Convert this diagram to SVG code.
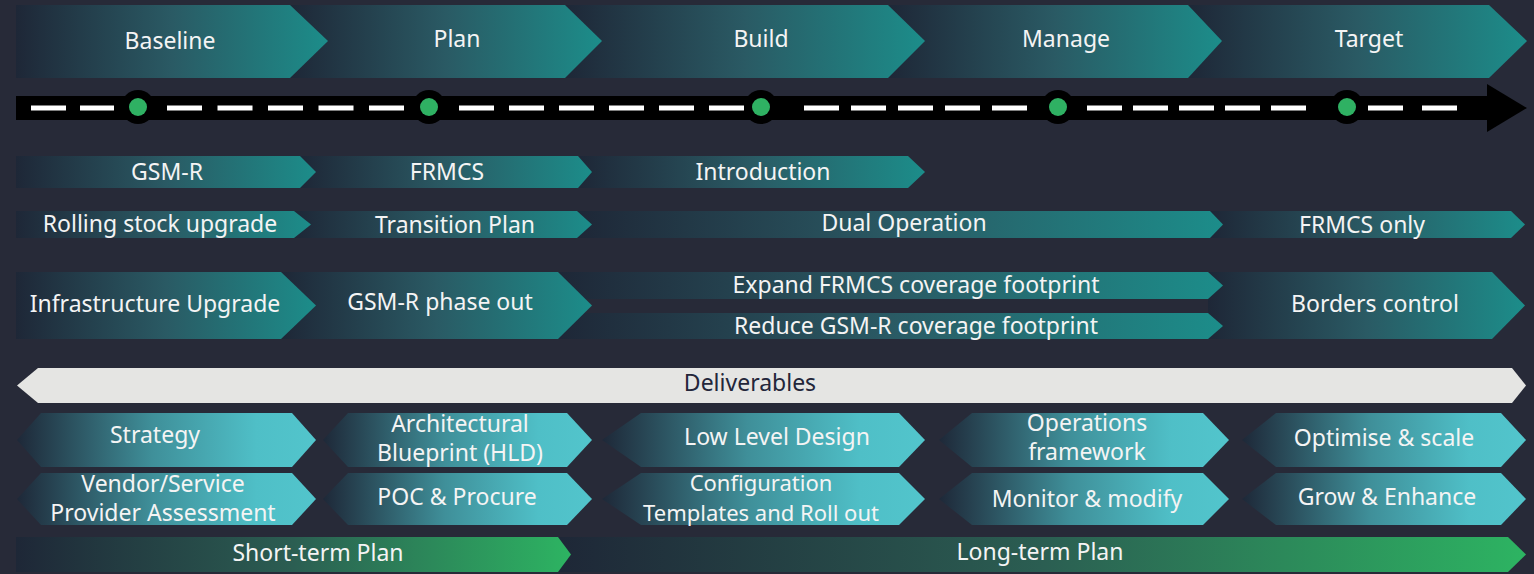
<svg xmlns="http://www.w3.org/2000/svg" width="1534" height="574" viewBox="0 0 1534 574">
<defs>
<linearGradient id="gTeal" x1="0" y1="0" x2="1" y2="0">
<stop offset="0" stop-color="#1e2737"/>
<stop offset="0.5" stop-color="#2a5a64"/>
<stop offset="1" stop-color="#1c8d8a"/>
</linearGradient>
<linearGradient id="gCyan" x1="0" y1="0" x2="1" y2="0">
<stop offset="0" stop-color="#1e2838"/>
<stop offset="0.45" stop-color="#3f8f99"/>
<stop offset="0.8" stop-color="#4fbfc7"/>
<stop offset="1" stop-color="#52c5cc"/>
</linearGradient>
<linearGradient id="gGreen" x1="0" y1="0" x2="1" y2="0">
<stop offset="0" stop-color="#1e2737"/>
<stop offset="0.5" stop-color="#2b5e52"/>
<stop offset="1" stop-color="#2db462"/>
</linearGradient>
<style>
.bg{fill:#272a38}
.ch{fill:url(#gTeal)}
.hx{fill:url(#gCyan)}
.gr{fill:url(#gGreen)}
text{font-family:"Noto Sans","Open Sans","DejaVu Sans",sans-serif;font-size:23px;fill:#f4f4f4;text-anchor:middle}
.sm{font-size:22px}
.dk{fill:#23263a}
.dash{stroke:#ffffff;stroke-width:5;fill:none}
</style>
</defs>
<rect class="bg" x="0" y="0" width="1534" height="574"/>

<g id="phases">
<g id="target"><path class="ch" d="M1188,5 H1489 L1527,41 L1489,78 H1188 Z"/><text x="1369" y="47">Target</text></g>
<g id="manage"><path class="ch" d="M888,5 H1188 L1222,41 L1188,78 H888 Z"/><text x="1066" y="47">Manage</text></g>
<g id="build"><path class="ch" d="M565,5 H888 L925,41 L888,78 H565 Z"/><text x="761" y="47">Build</text></g>
<g id="plan"><path class="ch" d="M290,5 H565 L602,41 L565,78 H290 Z"/><text x="457" y="47">Plan</text></g>
<g id="baseline"><path class="ch" d="M16,5 H290 L328,41 L290,78 H16 Z"/><text x="170" y="49">Baseline</text></g>
</g>

<g id="timeline">
<rect x="16" y="96" width="1474" height="24" fill="#000"/>
<path d="M1487,84 L1527,108 L1487,132 Z" fill="#000"/>
<line class="dash" x1="31" y1="108" x2="114" y2="108" stroke-dasharray="35 14"/>
<line class="dash" x1="167" y1="108" x2="404" y2="108" stroke-dasharray="35 15.5"/>
<line class="dash" x1="459" y1="108" x2="744" y2="108" stroke-dasharray="35 15"/>
<line class="dash" x1="804" y1="108" x2="1027" y2="108" stroke-dasharray="35 12"/>
<line class="dash" x1="1087" y1="108" x2="1306" y2="108" stroke-dasharray="35 11"/>
<line class="dash" x1="1368" y1="108" x2="1457" y2="108" stroke-dasharray="35 19"/>
<g fill="#000"><circle cx="138" cy="107" r="17"/><circle cx="429" cy="107" r="17"/><circle cx="761" cy="107" r="17"/><circle cx="1058" cy="107" r="17"/><circle cx="1347" cy="107" r="17"/></g>
<g fill="#2fb163"><circle cx="138" cy="107" r="9"/><circle cx="429" cy="107" r="9"/><circle cx="761" cy="107" r="9"/><circle cx="1058" cy="107" r="9"/><circle cx="1347" cy="107" r="9"/></g>
</g>

<g id="row-tech">
<g id="introduction"><path class="ch" d="M578,156 H908 L925,172 L908,188 H578 Z"/><text x="763" y="180">Introduction</text></g>
<g id="frmcs"><path class="ch" d="M300,156 H578 L592,172 L578,188 H300 Z"/><text x="447" y="180">FRMCS</text></g>
<g id="gsmr"><path class="ch" d="M16,156 H300 L316,172 L300,188 H16 Z"/><text x="167" y="180">GSM-R</text></g>
</g>

<g id="row-rolling">
<g id="frmcs-only"><path class="ch" d="M1210,211 H1511 L1525,224.5 L1511,238 H1210 Z"/><text x="1362" y="233">FRMCS only</text></g>
<g id="dual-operation"><path class="ch" d="M577,211 H1210 L1223,224.5 L1210,238 H577 Z"/><text x="904" y="231">Dual Operation</text></g>
<g id="transition-plan"><path class="ch" d="M294,211 H577 L592,224.5 L577,238 H294 Z"/><text x="455" y="233">Transition Plan</text></g>
<g id="rolling-stock"><path class="ch" d="M16,211 H294 L311,224.5 L294,238 H16 Z"/><text x="160" y="232">Rolling stock upgrade</text></g>
</g>

<g id="row-infra">
<g id="borders-control"><path class="ch" d="M1208,272 H1492 L1525,305.5 L1492,339 H1208 Z"/><text x="1375" y="312">Borders control</text></g>
<g id="expand"><path class="ch" d="M558,272 H1208 L1223,285.5 L1208,299 H558 Z"/><text x="916" y="293">Expand FRMCS coverage footprint</text></g>
<g id="reduce"><path class="ch" d="M558,313 H1208 L1223,326 L1208,339 H558 Z"/><text x="916" y="334">Reduce GSM-R coverage footprint</text></g>
<g id="gsmr-phase-out"><path class="ch" d="M281,272 H558 L592,305.5 L558,339 H281 Z"/><text x="440" y="310">GSM-R phase out</text></g>
<g id="infrastructure"><path class="ch" d="M16,272 H281 L316,305.5 L281,339 H16 Z"/><text x="155" y="312">Infrastructure Upgrade</text></g>
</g>

<g id="deliverables">
<path d="M17,385.5 L38,368 H1512 L1526,385.5 L1512,403 H38 Z" fill="#e5e5e3"/>
<text class="dk" x="750" y="391">Deliverables</text>
</g>

<g id="deliverables-row1">
<g id="strategy"><path class="hx" d="M41,413 H292 L316,440 L292,467 H41 L17,440 Z"/><text x="155" y="443">Strategy</text></g>
<g id="architectural"><path class="hx" d="M348,413 H567 L592,440 L567,467 H348 L323,440 Z"/><text x="460" y="432">Architectural</text><text x="460" y="461">Blueprint (HLD)</text></g>
<g id="lld"><path class="hx" d="M641,413 H899 L925,440 L899,467 H641 L602,440 Z"/><text x="777" y="445">Low Level Design</text></g>
<g id="operations"><path class="hx" d="M972,413 H1203 L1229,440 L1203,467 H972 L939,440 Z"/><text x="1087" y="431">Operations</text><text x="1087" y="460">framework</text></g>
<g id="optimise"><path class="hx" d="M1276,413 H1501 L1526,440 L1501,467 H1276 L1242,440 Z"/><text x="1384" y="446">Optimise &amp; scale</text></g>
</g>

<g id="deliverables-row2">
<g id="vendor"><path class="hx" d="M41,473 H292 L316,499 L292,525 H41 L17,499 Z"/><text x="163" y="492">Vendor/Service</text><text x="163" y="521">Provider Assessment</text></g>
<g id="poc"><path class="hx" d="M348,473 H567 L592,499 L567,525 H348 L323,499 Z"/><text x="457" y="505">POC &amp; Procure</text></g>
<g id="configuration"><path class="hx" d="M641,473 H899 L925,499 L899,525 H641 L602,499 Z"/><text class="sm" x="761" y="491">Configuration</text><text class="sm" x="761" y="521">Templates and Roll out</text></g>
<g id="monitor"><path class="hx" d="M972,473 H1203 L1229,499 L1203,525 H972 L939,499 Z"/><text x="1087" y="507">Monitor &amp; modify</text></g>
<g id="grow"><path class="hx" d="M1276,473 H1501 L1526,499 L1501,525 H1276 L1242,499 Z"/><text x="1387" y="505">Grow &amp; Enhance</text></g>
</g>

<g id="plans">
<g id="long-term"><path class="gr" d="M558,537 H1508 L1526,554.5 L1508,572 H558 Z"/><text x="1040" y="560">Long-term Plan</text></g>
<g id="short-term"><path class="gr" d="M16,537 H558 L571,554.5 L558,572 H16 Z"/><text x="318" y="561">Short-term Plan</text></g>
</g>
</svg>
